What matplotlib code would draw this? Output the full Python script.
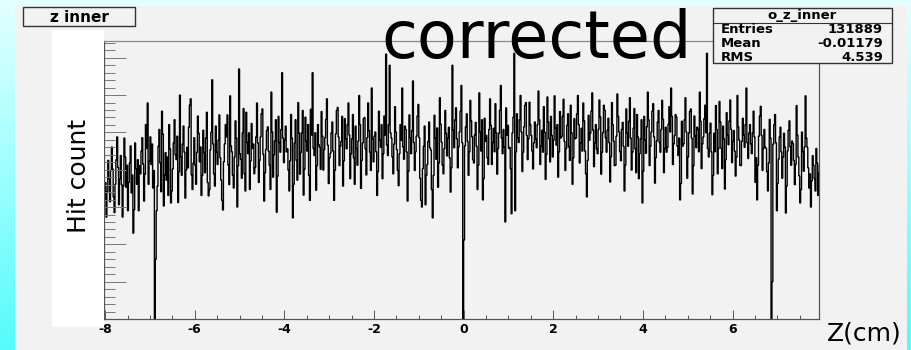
import numpy as np
import matplotlib
matplotlib.use("Agg")
import matplotlib.pyplot as plt
from matplotlib.patches import Rectangle
from matplotlib.lines import Line2D
from matplotlib.colors import LinearSegmentedColormap
from matplotlib.ticker import MultipleLocator

# ---- histogram: hit counts in 0.02 cm z bins starting at z = -8.02 cm ----
z_min = -8.02
bin_width = 0.02
counts = [
    318, 366, 273, 341, 425, 376, 314, 398, 461, 402, 327, 285, 361, 427, 488, 406, 306, 376, 438, 360,
    273, 356, 485, 434, 353, 412, 290, 366, 418, 464, 338, 386, 230, 293, 472, 403, 361, 427, 290, 411,
    389, 450, 486, 415, 316, 388, 521, 457, 579, 361, 424, 488, 414, 469, 351, 398, 0, 160, 290, 356,
    463, 508, 418, 341, 557, 496, 303, 385, 446, 372, 434, 331, 521, 456, 311, 343, 402, 472, 534, 440,
    427, 490, 312, 395, 600, 434, 385, 469, 517, 447, 324, 399, 460, 405, 514, 573, 590, 386, 347, 418,
    486, 412, 361, 447, 544, 498, 421, 461, 331, 385, 506, 446, 392, 485, 554, 366, 330, 347, 454, 501,
    641, 469, 389, 356, 517, 448, 414, 479, 547, 432, 372, 318, 292, 421, 469, 521, 488, 547, 412, 360,
    598, 464, 448, 385, 351, 434, 531, 485, 300, 411, 670, 443, 428, 377, 499, 564, 389, 343, 554, 473,
    443, 499, 347, 424, 524, 457, 469, 389, 406, 488, 579, 472, 366, 425, 488, 550, 563, 441, 316, 392,
    454, 505, 515, 450, 412, 347, 608, 501, 380, 440, 477, 534, 286, 383, 543, 473, 447, 508, 660, 485,
    419, 479, 517, 448, 456, 399, 343, 424, 548, 485, 271, 361, 472, 534, 425, 372, 580, 498, 388, 447,
    499, 559, 332, 401, 541, 476, 450, 521, 385, 318, 562, 493, 660, 457, 438, 499, 345, 411, 521, 467,
    460, 401, 556, 490, 399, 454, 486, 535, 590, 466, 363, 432, 444, 499, 528, 450, 318, 399, 496, 559,
    567, 488, 411, 463, 476, 543, 356, 424, 537, 483, 456, 521, 579, 493, 376, 443, 483, 548, 432, 361,
    517, 457, 412, 477, 599, 521, 350, 425, 472, 537, 540, 456, 386, 486, 579, 505, 447, 398, 619, 483,
    421, 490, 501, 448, 331, 395, 557, 480, 460, 521, 376, 443, 544, 493, 710, 466, 438, 521, 680, 499,
    485, 434, 389, 469, 569, 501, 454, 398, 357, 443, 521, 479, 619, 461, 428, 517, 508, 448, 316, 396,
    547, 485, 443, 505, 638, 473, 398, 448, 490, 544, 575, 486, 377, 318, 300, 403, 463, 517, 306, 385,
    414, 476, 528, 459, 453, 347, 271, 385, 546, 485, 428, 512, 353, 418, 593, 522, 474, 412, 389, 457,
    559, 498, 437, 485, 514, 432, 340, 405, 680, 506, 459, 534, 566, 483, 405, 461, 501, 557, 626, 472,
    0, 212, 464, 515, 550, 476, 385, 448, 586, 531, 488, 427, 418, 493, 527, 463, 347, 412, 606, 501,
    450, 534, 319, 376, 538, 476, 492, 432, 414, 508, 590, 519, 414, 473, 511, 448, 577, 499, 388, 457,
    498, 559, 626, 485, 443, 508, 461, 260, 566, 492, 519, 457, 460, 403, 282, 499, 541, 712, 290, 448,
    550, 485, 473, 534, 599, 501, 395, 447, 515, 572, 580, 492, 427, 483, 581, 521, 492, 450, 402, 472,
    528, 483, 459, 521, 611, 534, 414, 463, 506, 447, 569, 501, 374, 441, 595, 528, 483, 421, 543, 492,
    434, 479, 598, 512, 466, 521, 380, 448, 556, 485, 489, 543, 589, 476, 398, 457, 519, 550, 461, 425,
    573, 499, 361, 432, 537, 483, 485, 550, 599, 521, 418, 472, 511, 450, 579, 531, 450, 389, 327, 425,
    546, 479, 498, 557, 606, 506, 408, 472, 521, 456, 443, 508, 587, 541, 388, 447, 499, 573, 560, 486,
    447, 506, 538, 472, 367, 435, 580, 521, 477, 411, 412, 490, 603, 543, 501, 448, 424, 508, 527, 463,
    343, 412, 563, 498, 463, 530, 593, 485, 399, 447, 511, 564, 456, 392, 548, 488, 376, 443, 483, 534,
    311, 396, 543, 479, 444, 515, 608, 534, 411, 463, 501, 557, 577, 488, 364, 432, 477, 528, 559, 473,
    447, 508, 586, 535, 392, 457, 514, 447, 460, 522, 569, 501, 619, 543, 414, 469, 492, 548, 541, 463,
    438, 485, 319, 363, 530, 463, 469, 534, 593, 501, 377, 434, 499, 556, 563, 485, 335, 411, 544, 490,
    459, 514, 508, 448, 608, 530, 403, 469, 488, 537, 573, 499, 712, 457, 434, 498, 525, 448, 333, 385,
    498, 448, 572, 508, 389, 457, 583, 528, 457, 403, 517, 483, 348, 427, 553, 492, 467, 531, 587, 508,
    419, 476, 505, 450, 383, 434, 599, 515, 479, 412, 411, 476, 538, 493, 460, 521, 619, 472, 430, 498,
    521, 469, 443, 499, 557, 488, 366, 432, 319, 412, 490, 544, 570, 492, 398, 457, 508, 461, 457, 395,
    343, 418, 535, 485, 0, 100, 469, 521, 548, 472, 290, 363, 428, 488, 514, 448, 377, 434, 498, 461,
    284, 356, 450, 506, 531, 461, 412, 477, 470, 425, 360, 414, 572, 493, 434, 383, 311, 347, 501, 448,
    396, 461, 598, 485, 460, 405, 351, 389, 300, 370, 438, 412, 376, 343, 457, 418, 331, 392, 412, 370,
]
x_ticks = [-8, -6, -4, -2, 0, 2, 4, 6]
x_tick_labels = ["-8", "-6", "-4", "-2", "0", "2", "4", "6"]
x_max = 7.93
y_max = 745

hist_title = "z inner"
stats_name = "o_z_inner"
stats_labels = ["Entries", "Mean", "RMS"]
stats_values = ["131889", "-0.01179", "4.539"]

W, H = 912, 350
fig = plt.figure(figsize=(W / 100, H / 100), dpi=100)


def fx(px):
    return px / W


def fy(py):
    return 1 - py / H


# canvas background: cyan gradient, grey pad on top
bg = fig.add_axes([0, 0, 1, 1], zorder=-10)
cmap = LinearSegmentedColormap.from_list("canvas", ["#e4ffff", "#9cffff", "#55fbfb"])
bg.imshow(np.linspace(0, 1, 256)[:, None], cmap=cmap, aspect="auto",
          extent=[0, 1, 0, 1])
bg.set_axis_off()

fig.add_artist(Rectangle((fx(15), 0), fx(907) - fx(15), fy(6), transform=fig.transFigure,
                         facecolor="#f2f2f2", edgecolor="none", zorder=-5))

# main frame
ax = fig.add_axes([fx(104.2), fy(319), fx(819) - fx(104.2), fy(41) - fy(319)])
ax.set_facecolor("#f2f2f2")
edges = z_min + bin_width * np.arange(len(counts) + 1)
ax.stairs(counts, edges, baseline=None, color="black", lw=1.0)
ax.set_xlim(z_min, x_max)
ax.set_ylim(0, y_max)

ax.set_xticks(x_ticks)
ax.set_xticklabels(x_tick_labels, fontsize=9, fontweight="bold", family="DejaVu Sans")
ax.xaxis.set_minor_locator(MultipleLocator(0.5))
ax.yaxis.set_major_locator(MultipleLocator(100))
ax.yaxis.set_minor_locator(MultipleLocator(20))
ax.tick_params(axis="x", which="major", direction="in", length=6.5, width=0.7,
               color="#555555", pad=3)
ax.tick_params(axis="x", which="minor", direction="in", length=3, width=0.7, color="#555555")
ax.tick_params(axis="y", which="major", direction="in", length=15.8, width=0.7,
               color="#777777", labelleft=False)
ax.tick_params(axis="y", which="minor", direction="in", length=7.9, width=0.7, color="#777777")
for side, col in [("top", "#8a8a8a"), ("left", "#555555"), ("bottom", "#555555"),
                  ("right", "#555555")]:
    ax.spines[side].set_color(col)
    ax.spines[side].set_linewidth(0.9)

# white band behind the y-axis title
fig.add_artist(Rectangle((fx(52), fy(327)), fx(103.5) - fx(52), fy(30) - fy(327),
                         transform=fig.transFigure, facecolor="white", edgecolor="none",
                         zorder=1))
fig.text(fx(79), fy(176), "Hit count", rotation=90, ha="center", va="center",
         fontsize=18, family="DejaVu Sans", color="black", zorder=2)

# x-axis title
fig.text(fx(827), fy(341), "Z(cm)", ha="left", va="baseline", fontsize=18,
         family="DejaVu Sans", color="black")

# large overlay label
fig.text(fx(381), fy(58), "corrected", ha="left", va="baseline", fontsize=47,
         family="DejaVu Sans", color="black", zorder=5)

# histogram title box
fig.add_artist(Rectangle((fx(23), fy(26)), fx(135) - fx(23), fy(7) - fy(26),
                         transform=fig.transFigure, facecolor="#f2f2f2",
                         edgecolor="#333333", lw=1.0, zorder=6))
fig.text(fx(79), fy(17), hist_title, ha="center", va="center", fontsize=11,
         fontweight="bold", family="DejaVu Sans", zorder=7)

# statistics box
fig.add_artist(Rectangle((fx(713), fy(63)), fx(892) - fx(713), fy(8) - fy(63),
                         transform=fig.transFigure, facecolor="#f2f2f2",
                         edgecolor="#333333", lw=1.0, zorder=6))
fig.add_artist(Line2D([fx(713), fx(892)], [fy(22.5), fy(22.5)], transform=fig.transFigure,
                      color="#333333", lw=0.8, zorder=7))
fig.text(fx(802), fy(15), stats_name, ha="center", va="center", fontsize=9.5,
         fontweight="bold", family="DejaVu Sans", zorder=7)
row_y = [29.5, 43.5, 57.5]
for lab, val, yy in zip(stats_labels, stats_values, row_y):
    fig.text(fx(721), fy(yy), lab, ha="left", va="center", fontsize=9.5,
             fontweight="bold", family="DejaVu Sans", zorder=7)
    fig.text(fx(883), fy(yy), val, ha="right", va="center", fontsize=9.5,
             fontweight="bold", family="DejaVu Sans", zorder=7)

fig.savefig("out.png", dpi=100)
